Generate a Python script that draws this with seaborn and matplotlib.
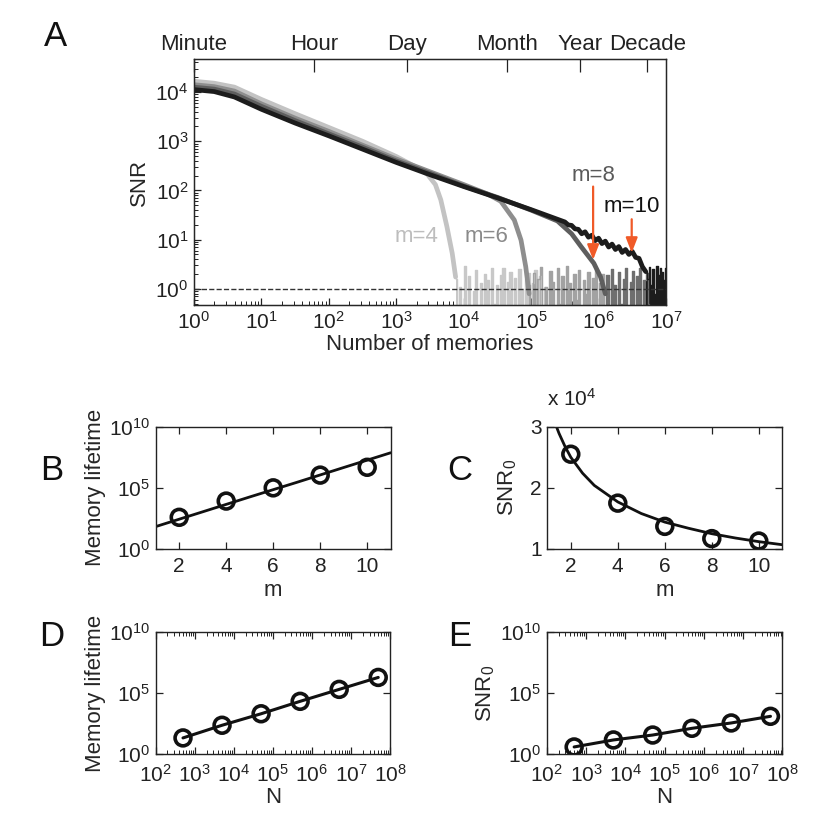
import numpy as np
import pandas as pd
import matplotlib
matplotlib.use("Agg")
import matplotlib.pyplot as plt
import seaborn as sns
from matplotlib.ticker import LogLocator, NullFormatter, FixedLocator

sns.set_style("ticks")
plt.rcParams["font.family"] = ["Liberation Sans", "DejaVu Sans"]
plt.rcParams["mathtext.fontset"] = "custom"
plt.rcParams["mathtext.rm"] = "Liberation Sans"
plt.rcParams["mathtext.it"] = "Liberation Sans"
plt.rcParams["mathtext.default"] = "regular"

# ---------------- Panel A data (log10 of memories, log10 of SNR) -------------
m4_logx = [0, 0.3, 0.6, 1.0, 1.5, 2.0, 2.5, 3.0, 3.26, 3.46, 3.58, 3.66, 3.75, 3.83, 3.88]
m4_logsnr = [4.22, 4.18, 4.10, 3.85, 3.56, 3.28, 3.00, 2.69, 2.50, 2.33, 2.12, 1.81, 1.27, 0.72, 0.24]
m6_logx = [0, 0.3, 0.6, 1.0, 1.5, 2.0, 2.5, 3.0, 3.5, 4.0, 4.35, 4.55, 4.75, 4.85, 4.92, 4.97]
m6_logsnr = [4.15, 4.11, 4.02, 3.76, 3.47, 3.20, 2.92, 2.64, 2.38, 2.12, 1.93, 1.78, 1.40, 0.99, 0.45, -0.1]
m8_logx = [0, 0.3, 0.6, 1.0, 1.5, 2.0, 2.5, 3.0, 3.5, 4.0, 4.5, 5.0, 5.39, 5.6, 5.74, 5.93, 6.03, 6.1]
m8_logsnr = [4.10, 4.06, 3.96, 3.71, 3.42, 3.15, 2.88, 2.60, 2.35, 2.09, 1.86, 1.60, 1.38, 1.12, 0.86, 0.52, 0.24, -0.1]
m10_logx = [0, 0.3, 0.6, 1.0, 1.5, 2.0, 2.5, 3.0, 3.5, 4.0, 4.5, 5.0, 5.5, 5.55, 5.6, 5.65,
            5.7, 5.75, 5.8, 5.85, 5.9, 5.95, 6.0, 6.05, 6.1, 6.15, 6.2, 6.25, 6.3, 6.35,
            6.4, 6.45, 6.5, 6.55, 6.6, 6.65, 6.7]
m10_logsnr = [4.05, 4.01, 3.90, 3.65, 3.37, 3.11, 2.84, 2.57, 2.32, 2.08, 1.85, 1.61, 1.36, 1.30,
              1.29, 1.22, 1.21, 1.12, 1.16, 1.05, 1.09, 0.98, 1.03, 0.92, 0.97, 0.85, 0.91,
              0.80, 0.86, 0.74, 0.80, 0.70, 0.76, 0.64, 0.62, 0.45, 0.35]

# noisy tails (SNR values) and the log10 range of memories they span
m4_noise = [1.6, 0.3, 1.1, 0.4, 2.9, 0.3, 1.8, 0.2, 0.9, 2.4, 0.3, 1.3, 0.2, 2.0, 1.5,
            0.3, 2.6, 0.5, 1.2, 0.2, 1.9, 2.7, 0.3, 1.4, 2.2, 0.4, 1.7, 0.2, 2.5, 1.0,
            0.3, 1.6, 2.1, 0.2, 1.3, 2.4, 0.4, 1.8, 0.3, 1.1]
m4_noise_range = [3.88, 5.2]
m6_noise = [1.2, 0.3, 2.1, 0.4, 1.6, 2.8, 0.3, 1.1, 0.2, 2.3, 1.4, 0.3, 2.6, 0.5, 1.8,
            0.2, 2.9, 1.3, 0.3, 2.0, 0.6, 2.4, 0.3, 1.5, 0.8, 2.2, 0.3, 1.7, 2.5, 0.4,
            1.3, 2.0, 0.3]
m6_noise_range = [4.97, 6.1]
m8_noise = [0.4, 1.9, 0.3, 2.5, 1.2, 0.3, 2.2, 0.5, 1.6, 2.7, 0.3, 1.4, 2.3, 0.4, 1.8,
            2.6, 0.3, 1.5, 2.1, 0.5]
m8_noise_range = [6.1, 6.75]
m10_noise = [2.2, 1.6, 2.8, 1.2, 2.5, 0.8, 2.9, 1.9, 2.6, 2.2, 1.5, 2.7]
m10_noise_range = [6.7, 7.0]

curve_labels = ["m=4", "m=6", "m=8", "m=10"]
curve_colors = ["#c3c3c3", "#8e8e8e", "#5e5e5e", "#1c1c1c"]
noise_colors = ["#c8c8c8", "#a2a2a2", "#6e6e6e", "#1c1c1c"]

time_ticks = [1, 60, 1440, 43200, 525600, 5256000]
time_labels = ["Minute", "Hour", "Day", "Month", "Year", "Decade"]

# ---------------- Panels B-E data -----------------------------------------
b_m = [2, 4, 6, 8, 10]
b_life = [390, 8300, 1.0e5, 1.1e6, 4.8e6]
b_fit_m = [1, 3, 5, 7, 9, 11]
b_fit_life = [68, 1.1e3, 1.8e4, 2.8e5, 4.6e6, 7.4e7]

c_m = [2, 4, 6, 8, 10]
c_snr0 = [2.55e4, 1.75e4, 1.37e4, 1.17e4, 1.13e4]
c_fit_m = [1.39, 1.5, 1.75, 2, 2.5, 3, 4, 5, 6, 7, 8, 9, 10, 11]
c_fit_snr0 = [3.00e4, 2.89e4, 2.68e4, 2.50e4, 2.24e4, 2.04e4, 1.77e4, 1.58e4,
              1.44e4, 1.34e4, 1.25e4, 1.18e4, 1.12e4, 1.07e4]

d_N = [5e2, 5e3, 5e4, 5e5, 5e6, 5e7]
d_life = [22, 240, 2100, 2.2e4, 2.1e5, 2.0e6]

e_N = [5e2, 5e3, 5e4, 5e5, 5e6, 5e7]
e_snr0 = [4.0, 15, 38, 135, 370, 1300]

FS = 15
LFS = 16
W, H = 831, 818
fig = plt.figure(figsize=(W / 100, H / 100), dpi=100)


def rect(l, r, t, b):
    return [l / W, 1 - b / H, (r - l) / W, (b - t) / H]


def style(ax, minor_x=False, minor_y=False, right=True, top=True, xpad=5):
    for s in ax.spines.values():
        s.set_linewidth(1.0)
        s.set_color("#222222")
    ax.tick_params(which="both", direction="in", labelsize=FS, top=top, right=right,
                   colors="#222222", labelcolor="#222222")
    ax.tick_params(which="major", length=5, width=0.9, pad=4)
    ax.tick_params(axis="x", which="major", pad=xpad)
    ax.tick_params(which="minor", length=3, width=0.7)
    if not minor_x:
        ax.xaxis.set_minor_locator(FixedLocator([]))
    if not minor_y:
        ax.yaxis.set_minor_locator(FixedLocator([]))


# ---------------- Panel A -------------------------------------------------
axA = fig.add_axes(rect(194, 666, 59, 305))
smooth = [(m4_logx, m4_logsnr), (m6_logx, m6_logsnr), (m8_logx, m8_logsnr), (m10_logx, m10_logsnr)]
noises = [(m4_noise, m4_noise_range), (m6_noise, m6_noise_range),
          (m8_noise, m8_noise_range), (m10_noise, m10_noise_range)]
for (lx, ly), (nz, rng), col, ncol in zip(smooth, noises, curve_colors, noise_colors):
    nx = np.logspace(rng[0], rng[1], len(nz))
    ny = np.array(nz)
    axA.fill_between(nx, 0.01, ny, step="mid", color=ncol, linewidth=0)
    sns.lineplot(x=nx, y=ny, ax=axA, color=ncol, lw=1.0, drawstyle="steps-mid")
    sns.lineplot(x=10 ** np.array(lx), y=10 ** np.array(ly), ax=axA, color=col, lw=3.4)

sns.lineplot(x=[1, 1e7], y=[1, 1], ax=axA, color="#333333", lw=1.0, dashes=(7, 4.5), linestyle="--")
axA.set_xscale("log")
axA.set_yscale("log")
axA.set_xlim(1, 1e7)
axA.set_ylim(0.47, 4.7e4)
axA.xaxis.set_major_locator(LogLocator(base=10, numticks=20))
axA.xaxis.set_minor_locator(LogLocator(base=10, subs=np.arange(2, 10), numticks=20))
axA.xaxis.set_minor_formatter(NullFormatter())
axA.yaxis.set_major_locator(LogLocator(base=10, numticks=20))
axA.yaxis.set_minor_locator(LogLocator(base=10, subs=np.arange(2, 10), numticks=20))
axA.yaxis.set_minor_formatter(NullFormatter())
style(axA, minor_x=True, minor_y=True, right=False, top=False, xpad=4)
axA.set_xlabel("Number of memories", fontsize=LFS, labelpad=1)
axA.set_ylabel("SNR", fontsize=LFS, labelpad=4)

topA = axA.twiny()
topA.set_xscale("log")
topA.set_xlim(1, 1e7)
topA.set_xticks(time_ticks)
topA.set_xticklabels(time_labels)
topA.xaxis.set_minor_locator(FixedLocator([]))
topA.tick_params(axis="x", direction="in", length=9, width=0.9, labelsize=LFS, pad=3,
                 colors="#222222", labelcolor="#222222")

text_pos = [(2.0e3, 11.5), (2.2e4, 11.5), (8.3e5, 200), (3.1e6, 47)]
for (tx, ty), lab, col in zip(text_pos, curve_labels, ["#bdbdbd", "#8a8a8a", "#5a5a5a", "#111111"]):
    axA.text(tx, ty, lab, color=col, fontsize=LFS, ha="center", va="center")

arrow_color = "#f05a28"
for xa, y0, y1 in [(8.3e5, 120, 3.9), (3.1e6, 26, 5.4)]:
    axA.annotate("", xy=(xa, y1), xytext=(xa, y0),
                 arrowprops=dict(arrowstyle="-|>,head_length=0.9,head_width=0.35",
                                 color=arrow_color, lw=1.6, shrinkA=0, shrinkB=0))

# ---------------- Panel B -------------------------------------------------
axB = fig.add_axes(rect(155.7, 390.7, 426.7, 549))
sns.lineplot(x=b_fit_m, y=b_fit_life, ax=axB, color="#111111", lw=2.0)
sns.scatterplot(x=b_m, y=b_life, ax=axB, s=130, facecolor="none", edgecolor="#111111",
                linewidth=2.6, zorder=5)
axB.set_yscale("log")
axB.set_xlim(1, 11)
axB.set_ylim(1, 1e10)
axB.set_xticks([2, 4, 6, 8, 10])
axB.set_yticks([1, 1e5, 1e10])
style(axB, xpad=6)
axB.set_xlabel("m", fontsize=LFS, labelpad=3)
axB.set_ylabel("Memory lifetime", fontsize=LFS, labelpad=2)

# ---------------- Panel C -------------------------------------------------
axC = fig.add_axes(rect(547.3, 782.3, 426.7, 549))
sns.lineplot(x=c_fit_m, y=np.array(c_fit_snr0) / 1e4, ax=axC, color="#111111", lw=2.0)
sns.scatterplot(x=c_m, y=np.array(c_snr0) / 1e4, ax=axC, s=130, facecolor="none",
                edgecolor="#111111", linewidth=2.6, zorder=5)
axC.set_xlim(1, 11)
axC.set_ylim(1, 3)
axC.set_xticks([2, 4, 6, 8, 10])
axC.set_yticks([1, 2, 3])
style(axC, xpad=6)
axC.set_xlabel("m", fontsize=LFS, labelpad=3)
axC.set_ylabel(r"SNR$_0$", fontsize=LFS, labelpad=8)
axC.text(0.0, 1.17, r"x 10$^{4}$", transform=axC.transAxes, fontsize=FS,
         ha="left", va="baseline", color="#222222")

# ---------------- Panels D, E ---------------------------------------------
for rc, xs, ys, ylab in [((155.7, 390, 632.3, 754.3), d_N, d_life, "Memory lifetime"),
                         ((546.7, 782.3, 632.3, 754.3), e_N, e_snr0, r"SNR$_0$")]:
    ax = fig.add_axes(rect(*rc))
    sns.lineplot(x=xs, y=ys, ax=ax, color="#111111", lw=2.2)
    sns.scatterplot(x=xs, y=ys, ax=ax, s=130, facecolor="none", edgecolor="#111111",
                    linewidth=2.6, zorder=5)
    ax.set_xscale("log")
    ax.set_yscale("log")
    ax.set_xlim(1e2, 1e8)
    ax.set_ylim(1, 1e10)
    ax.xaxis.set_major_locator(LogLocator(base=10, numticks=20))
    ax.xaxis.set_minor_locator(LogLocator(base=10, subs=np.arange(2, 10), numticks=20))
    ax.xaxis.set_minor_formatter(NullFormatter())
    ax.set_yticks([1, 1e5, 1e10])
    style(ax, minor_x=True, xpad=7)
    ax.set_xlabel("N", fontsize=LFS, labelpad=1)
    ax.set_ylabel(ylab, fontsize=LFS, labelpad=2)

# panel letters
for lab, x, y in [("A", 55, 36), ("B", 52, 470), ("C", 460, 470), ("D", 52, 636), ("E", 460, 636)]:
    fig.text(x / W, 1 - y / H, lab, fontsize=25, ha="center", va="center", color="#111111")

fig.savefig("out.png", dpi=100)
